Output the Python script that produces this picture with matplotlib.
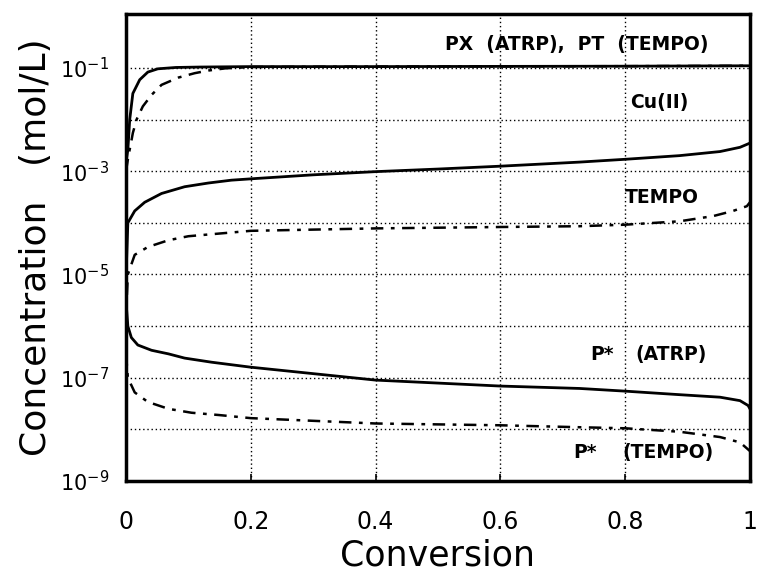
import matplotlib.pyplot as plt
import numpy as np

# Conversion (x) and concentrations (mol/L)
conv_px = [0, 0.003, 0.006, 0.011, 0.022, 0.035, 0.051, 0.08, 0.12, 0.2, 0.4, 0.6, 0.8, 1.0]
px_atrp = [1.5e-3, 2.6e-3, 1e-2, 3.2e-2, 5.9e-2, 8.3e-2, 0.096, 0.102, 0.104, 0.106, 0.106, 0.107, 0.108, 0.11]

conv_pt = [0, 0.004, 0.008, 0.011, 0.017, 0.027, 0.041, 0.057, 0.084, 0.11, 0.132, 0.159, 0.2, 0.4, 0.6, 0.8, 1.0]
pt_tempo = [1e-3, 2e-3, 3.5e-3, 5.5e-3, 1e-2, 1.8e-2, 3e-2, 4.7e-2, 6.5e-2, 7.9e-2, 8.9e-2, 0.098, 0.104,
            0.106, 0.107, 0.108, 0.11]

conv_cu = [0, 0.001, 0.003, 0.014, 0.03, 0.057, 0.094, 0.132, 0.169, 0.207, 0.3, 0.4, 0.5, 0.6, 0.727,
           0.8, 0.887, 0.952, 0.984, 1.0]
cu_ii = [1e-6, 2e-5, 1e-4, 1.7e-4, 2.5e-4, 3.7e-4, 5e-4, 5.9e-4, 6.7e-4, 7.2e-4, 8.5e-4, 9.8e-4, 1.1e-3,
         1.25e-3, 1.5e-3, 1.7e-3, 2e-3, 2.4e-3, 2.9e-3, 3.5e-3]

conv_tempo = [0, 0.001, 0.003, 0.014, 0.035, 0.068, 0.1, 0.2, 0.4, 0.6, 0.727, 0.8, 0.887, 0.941, 0.973,
              0.995, 1.0]
tempo = [1e-6, 3e-6, 1e-5, 2.4e-5, 3.4e-5, 4.6e-5, 5.5e-5, 7e-5, 7.8e-5, 8.3e-5, 8.6e-5, 9.2e-5, 1.07e-4,
         1.35e-4, 1.7e-4, 2.1e-4, 2.5e-4]

conv_pa = [0, 0.003, 0.0086, 0.019, 0.041, 0.068, 0.094, 0.137, 0.2, 0.3, 0.4, 0.6, 0.727, 0.8, 0.887,
           0.952, 0.984, 0.997, 1.0]
p_atrp = [3e-6, 1e-6, 6e-7, 4.3e-7, 3.4e-7, 2.9e-7, 2.4e-7, 2e-7, 1.6e-7, 1.2e-7, 9e-8, 6.9e-8, 6.2e-8,
          5.5e-8, 4.7e-8, 4.2e-8, 3.6e-8, 2.9e-8, 2.5e-8]

conv_ptr = [0, 0.003, 0.014, 0.035, 0.068, 0.105, 0.148, 0.2, 0.4, 0.6, 0.727, 0.8, 0.887, 0.952, 0.984, 1.0]
p_tempo = [3e-7, 1e-7, 5.2e-8, 3.4e-8, 2.5e-8, 2.1e-8, 1.9e-8, 1.65e-8, 1.3e-8, 1.2e-8, 1.1e-8, 1.05e-8,
           9e-9, 7.1e-9, 5.6e-9, 3.8e-9]

x_ticks = [0, 0.2, 0.4, 0.6, 0.8, 1]
x_ticklabels = ['0', '0.2', '0.4', '0.6', '0.8', '1']
y_ticks = [1e-9, 1e-7, 1e-5, 1e-3, 1e-1]
y_ticklabels = [r'$\mathregular{10^{-9}}$', r'$\mathregular{10^{-7}}$', r'$\mathregular{10^{-5}}$',
                r'$\mathregular{10^{-3}}$', r'$\mathregular{10^{-1}}$']

fig = plt.figure(figsize=(7.58, 5.71), dpi=100)
ax = fig.add_axes([0.1662, 0.1576, 0.8232, 0.818])

dashdot = (0, (5, 3, 1.5, 3))
ax.plot(conv_px, px_atrp, color='black', lw=2.0)
ax.plot(conv_pt, pt_tempo, color='black', lw=1.8, linestyle=dashdot)
ax.plot(conv_cu, cu_ii, color='black', lw=2.0)
ax.plot(conv_tempo, tempo, color='black', lw=1.8, linestyle=dashdot)
ax.plot(conv_pa, p_atrp, color='black', lw=2.0)
ax.plot(conv_ptr, p_tempo, color='black', lw=1.8, linestyle=dashdot)

ax.set_yscale('log')
ax.set_xlim(0, 1)
ax.set_ylim(1e-9, 1.11)

# dotted grid on every decade
ax.set_yticks([10.0 ** k for k in range(-9, 0)], minor=True)
ax.yaxis.set_minor_formatter(plt.NullFormatter())
ax.set_xticks(x_ticks)
ax.set_xticklabels(x_ticklabels)
ax.set_yticks(y_ticks)
ax.set_yticklabels(y_ticklabels)
ax.grid(True, which='both', axis='y', color='black', linestyle=(0, (1, 2)), linewidth=1.0)
ax.grid(True, which='major', axis='x', color='black', linestyle=(0, (1, 2)), linewidth=1.0)
ax.tick_params(axis='x', direction='in', length=5, width=1.2, pad=21, labelsize=17)
ax.tick_params(axis='y', which='both', length=0, pad=12, labelsize=15)

for s in ax.spines.values():
    s.set_linewidth(2.5)

ax.set_xlabel('Conversion', fontsize=25, labelpad=3)
ax.set_ylabel('Concentration   (mol/L)', fontsize=26, labelpad=5)

kw = dict(fontsize=13.5, fontweight='bold', va='center', ha='left')
ax.text(0.511, 0.28, 'PX  (ATRP),  PT  (TEMPO)', **kw)
ax.text(0.808, 2.1e-2, 'Cu(II)', **kw)
ax.text(0.80, 3.1e-4, 'TEMPO', **kw)
ax.text(0.744, 2.8e-7, 'P*', **kw)
ax.text(0.817, 2.8e-7, '(ATRP)', **kw)
ax.text(0.716, 3.6e-9, 'P*', **kw)
ax.text(0.796, 3.6e-9, '(TEMPO)', **kw)

fig.savefig('out.png', dpi=100)
